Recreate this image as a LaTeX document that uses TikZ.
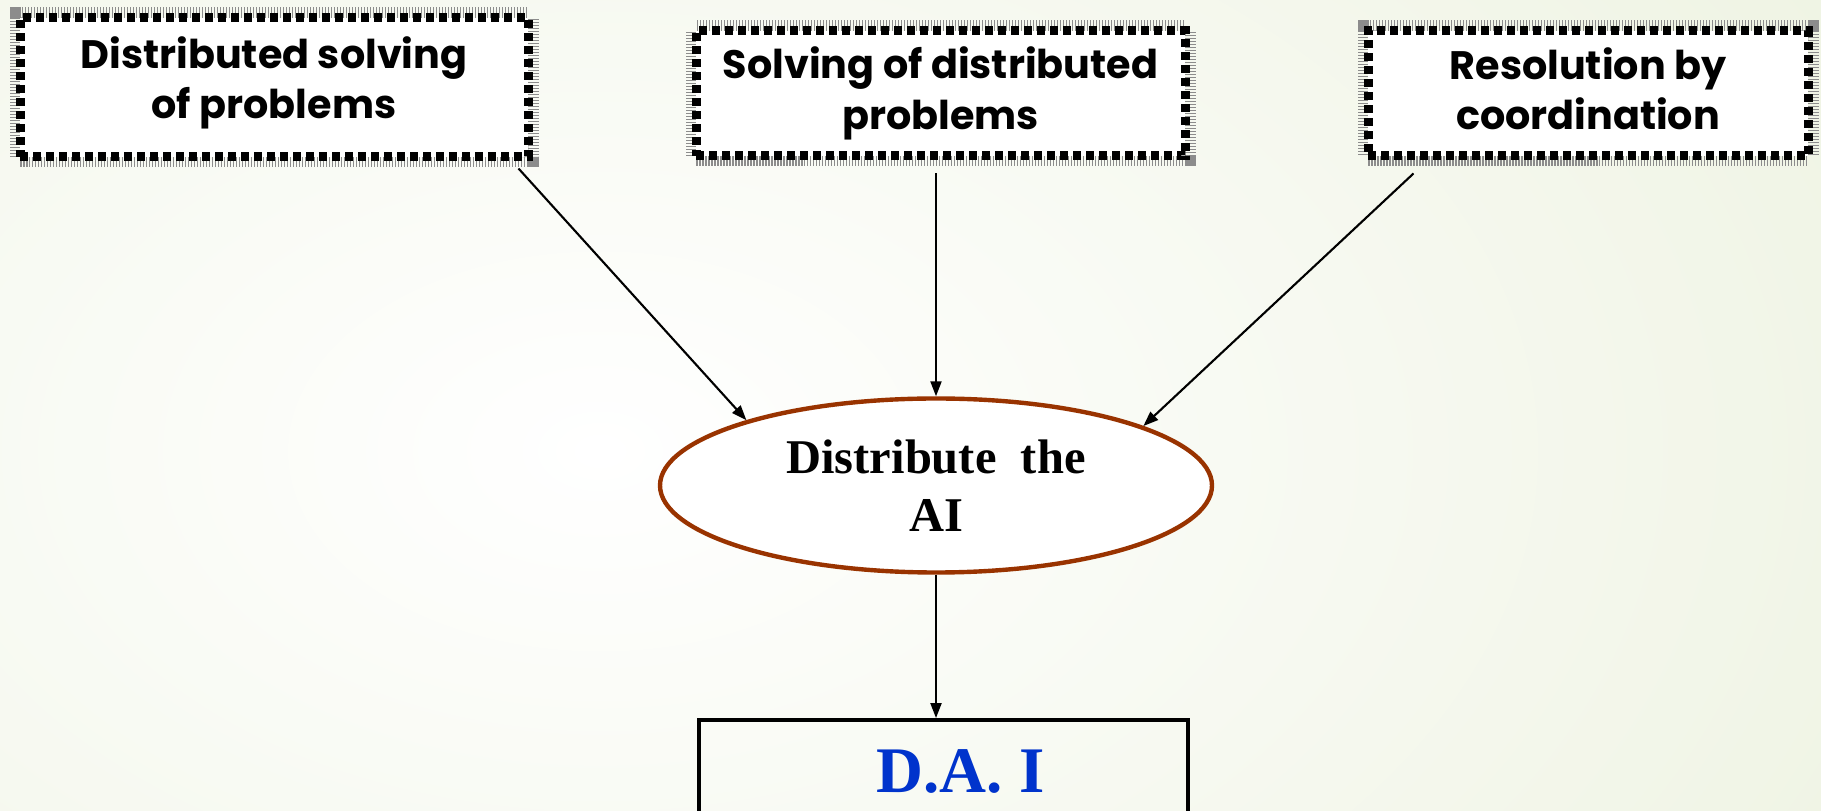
\documentclass[tikz,border=0pt]{standalone}
\usepackage{fontspec}
\setmainfont{Liberation Serif}
\newfontfamily\gothic{Poppins}
\usetikzlibrary{arrows.meta,shapes.geometric}
\definecolor{bggreen}{RGB}{227,235,207}
\definecolor{rust}{RGB}{153,51,0}
\definecolor{daiblue}{RGB}{0,51,204}

\begin{document}
\begin{tikzpicture}[>={Triangle[length=0.15cm,width=0.11cm]},
  every node/.append style={align=center},
  chk/.style={fill=white, draw=black, line width=0.09cm, inner sep=0pt,
    dash pattern=on 0.08cm off 0.05cm,
    preaction={draw=black!45, line width=0.21cm, dash pattern=on 0.015cm off 0.015cm},
    font=\gothic\bfseries\fontsize{11.3}{14.3}\selectfont},
  ell/.style={ellipse, draw=rust, line width=1.25pt, fill=white, inner sep=0pt,
    minimum width=5.52cm, minimum height=1.74cm,
    font=\bfseries\fontsize{13.8}{16.5}\selectfont},
  dai/.style={draw, line width=1.1pt, minimum width=4.89cm, minimum height=1.02cm,
    text=daiblue, font=\bfseries\fontsize{18.5}{20}\selectfont},
  conn/.style={->, line width=0.6pt}]
 \clip (0,0) rectangle (18.21,8.11);
 \shade[inner color=white, outer color=bggreen] (-19,-12.4) rectangle (31,19.6);
 % the three sources
 \node [chk, minimum width=5.08cm, minimum height=1.39cm, text depth=0.2cm] (dsp) at (2.74,7.235)
   {Distributed solving\\of problems};
 \node [chk, minimum width=4.89cm, minimum height=1.25cm] (sdp) at (9.405,7.175)
   {Solving of distributed\\problems};
 \node [chk, minimum width=4.40cm, minimum height=1.25cm, text depth=0.1cm] (rbc) at (15.88,7.175)
   {Resolution by\\coordination};
 \node [ell] (dai-e) at (9.36,3.255) {Distribute\ \ the\\AI};
 \node [dai] (dai) at (9.435,0.40) {\hspace{0.34cm}D.A. I};
 \draw [conn] ([xshift=-0.14cm,yshift=-0.07cm]dsp.south east) -- (dai-e.161);
 \draw [conn] ([yshift=-0.13cm]sdp.south -| dai-e.north) -- (dai-e.north);
 \draw [conn] ([xshift=0.5cm,yshift=-0.13cm]rbc.south west) -- (dai-e.16);
 \draw [conn] (dai-e.south) -- (dai-e.south |- dai.north);
\end{tikzpicture}
\end{document}
